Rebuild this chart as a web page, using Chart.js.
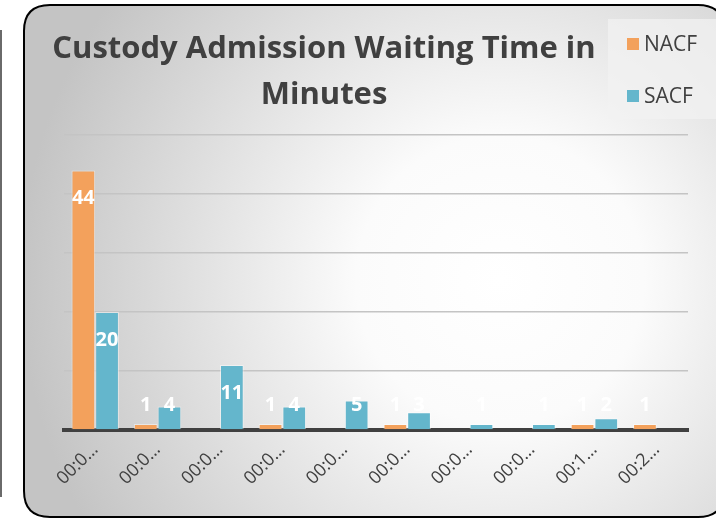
<!DOCTYPE html>
<html>
<head>
<meta charset="utf-8">
<title>Custody Admission Waiting Time in Minutes</title>
<script src="https://cdn.jsdelivr.net/npm/chart.js@4/dist/chart.umd.min.js"></script>
<style>
	body { margin: 0; background: #ffffff; }
	#wrap { width: 716px; height: 519px; }
</style>
</head>
<body>
<div id="wrap"><canvas id="waitChart"></canvas></div>
<script>
// Data
const categories = ['00:0…', '00:0…', '00:0…', '00:0…', '00:0…', '00:0…', '00:0…', '00:0…', '00:1…', '00:2…'];
const nacfValues = [44, 1, 0, 1, 0, 1, 0, 0, 1, 1];
const sacfValues = [20, 4, 11, 4, 5, 3, 1, 1, 2, 0];
const seriesNames = ['NACF', 'SACF'];
const titleLines = ['Custody Admission Waiting Time in', 'Minutes'];

const orange = 'rgb(243, 161, 92)';
const blue = 'rgb(100, 182, 204)';
const textGrey = '#404040';

function roundRect(ctx, x, y, w, h, r) {
	ctx.beginPath();
	ctx.moveTo(x + r, y);
	ctx.lineTo(x + w - r, y);
	ctx.quadraticCurveTo(x + w, y, x + w, y + r);
	ctx.lineTo(x + w, y + h - r);
	ctx.quadraticCurveTo(x + w, y + h, x + w - r, y + h);
	ctx.lineTo(x + r, y + h);
	ctx.quadraticCurveTo(x, y + h, x, y + h - r);
	ctx.lineTo(x, y + r);
	ctx.quadraticCurveTo(x, y, x + r, y);
	ctx.closePath();
}

// Background panel, frame and the stray line on the left
const panelPlugin = {
	id: 'panel',
	beforeDraw(chart) {
		const ctx = chart.ctx;
		ctx.save();
		ctx.fillStyle = '#ffffff';
		ctx.fillRect(0, 0, chart.width, chart.height);

		ctx.strokeStyle = '#6a6a6a';
		ctx.lineWidth = 2;
		ctx.beginPath();
		ctx.moveTo(1, 30);
		ctx.lineTo(1, 497);
		ctx.stroke();

		roundRect(ctx, 24, 5, 700, 512, 26);
		const grad = ctx.createRadialGradient(500, 280, 0, 500, 280, 480);
		grad.addColorStop(0, '#ffffff');
		grad.addColorStop(0.3, '#fbfbfb');
		grad.addColorStop(1, '#c4c4c4');
		ctx.fillStyle = grad;
		ctx.fill();
		ctx.lineWidth = 2;
		ctx.strokeStyle = '#000000';
		ctx.stroke();

		// legend box
		ctx.fillStyle = 'rgba(242, 242, 242, 0.75)';
		ctx.fillRect(608, 19, 108, 100);
		ctx.restore();
	},
	afterDraw(chart) {
		const ctx = chart.ctx;
		ctx.save();
		// title
		ctx.fillStyle = textGrey;
		ctx.font = 'bold 31px "Open Sans"';
		ctx.textAlign = 'center';
		ctx.textBaseline = 'middle';
		ctx.fillText(titleLines[0], 324, 49);
		ctx.fillText(titleLines[1], 324, 95);

		// legend
		ctx.font = '21px "Open Sans"';
		ctx.textAlign = 'left';
		chart.data.datasets.forEach((ds, i) => {
			const y = 44 + i * 52;
			ctx.fillStyle = ds.backgroundColor;
			ctx.fillRect(627, y - 6, 12, 12);
			ctx.fillStyle = textGrey;
			ctx.fillText(ds.label, 644, y + 1);
		});
		ctx.restore();
	},
};

// White value labels, near the top of each bar
const valueLabels = {
	id: 'valueLabels',
	afterDatasetsDraw(chart) {
		const ctx = chart.ctx;
		const base = chart.scales.y.getPixelForValue(0);
		ctx.save();
		ctx.fillStyle = '#ffffff';
		ctx.font = 'bold 20px "Open Sans"';
		ctx.textAlign = 'center';
		ctx.textBaseline = 'middle';
		chart.data.datasets.forEach((ds, i) => {
			chart.getDatasetMeta(i).data.forEach((bar, j) => {
				const v = ds.data[j];
				if (!v) return;
				const y = Math.min(bar.y + 28, base - 25);
				ctx.fillText(String(v), bar.x, y);
			});
		});
		ctx.restore();
	},
};

const ctxWait = document.getElementById('waitChart').getContext('2d');

const waitChart = new Chart(ctxWait, {
	type: 'bar',
	data: {
		labels: categories,
		datasets: [
			{
				label: seriesNames[0],
				data: nacfValues,
				backgroundColor: orange,
				borderColor: 'rgba(255, 255, 255, 0.45)',
				borderWidth: 1,
			},
			{
				label: seriesNames[1],
				data: sacfValues,
				backgroundColor: blue,
				borderColor: 'rgba(255, 255, 255, 0.45)',
				borderWidth: 1,
			},
		],
	},
	options: {
		responsive: true,
		maintainAspectRatio: false,
		animation: false,
		layout: {
			padding: { top: 135, right: 28, bottom: 0, left: 0 },
		},
		datasets: {
			bar: {
				categoryPercentage: 0.76,
				barPercentage: 1.0,
			},
		},
		plugins: {
			legend: { display: false },
			title: { display: false },
			tooltip: { enabled: false },
		},
		scales: {
			x: {
				grid: { display: false },
				border: { display: true, color: textGrey, width: 4 },
				ticks: {
					color: textGrey,
					font: { family: 'Open Sans', size: 18 },
					minRotation: 45,
					maxRotation: 45,
					padding: 1,
				},
				afterFit(scale) {
					scale.height = 89;
				},
			},
			y: {
				min: 0,
				max: 50,
				ticks: { display: false, stepSize: 10 },
				grid: { color: '#c4c4c4', lineWidth: 1.5, drawTicks: false },
				border: { display: false },
				afterFit(scale) {
					scale.width = 64;
				},
			},
		},
	},
	plugins: [panelPlugin, valueLabels],
});
</script>
</body>
</html>
